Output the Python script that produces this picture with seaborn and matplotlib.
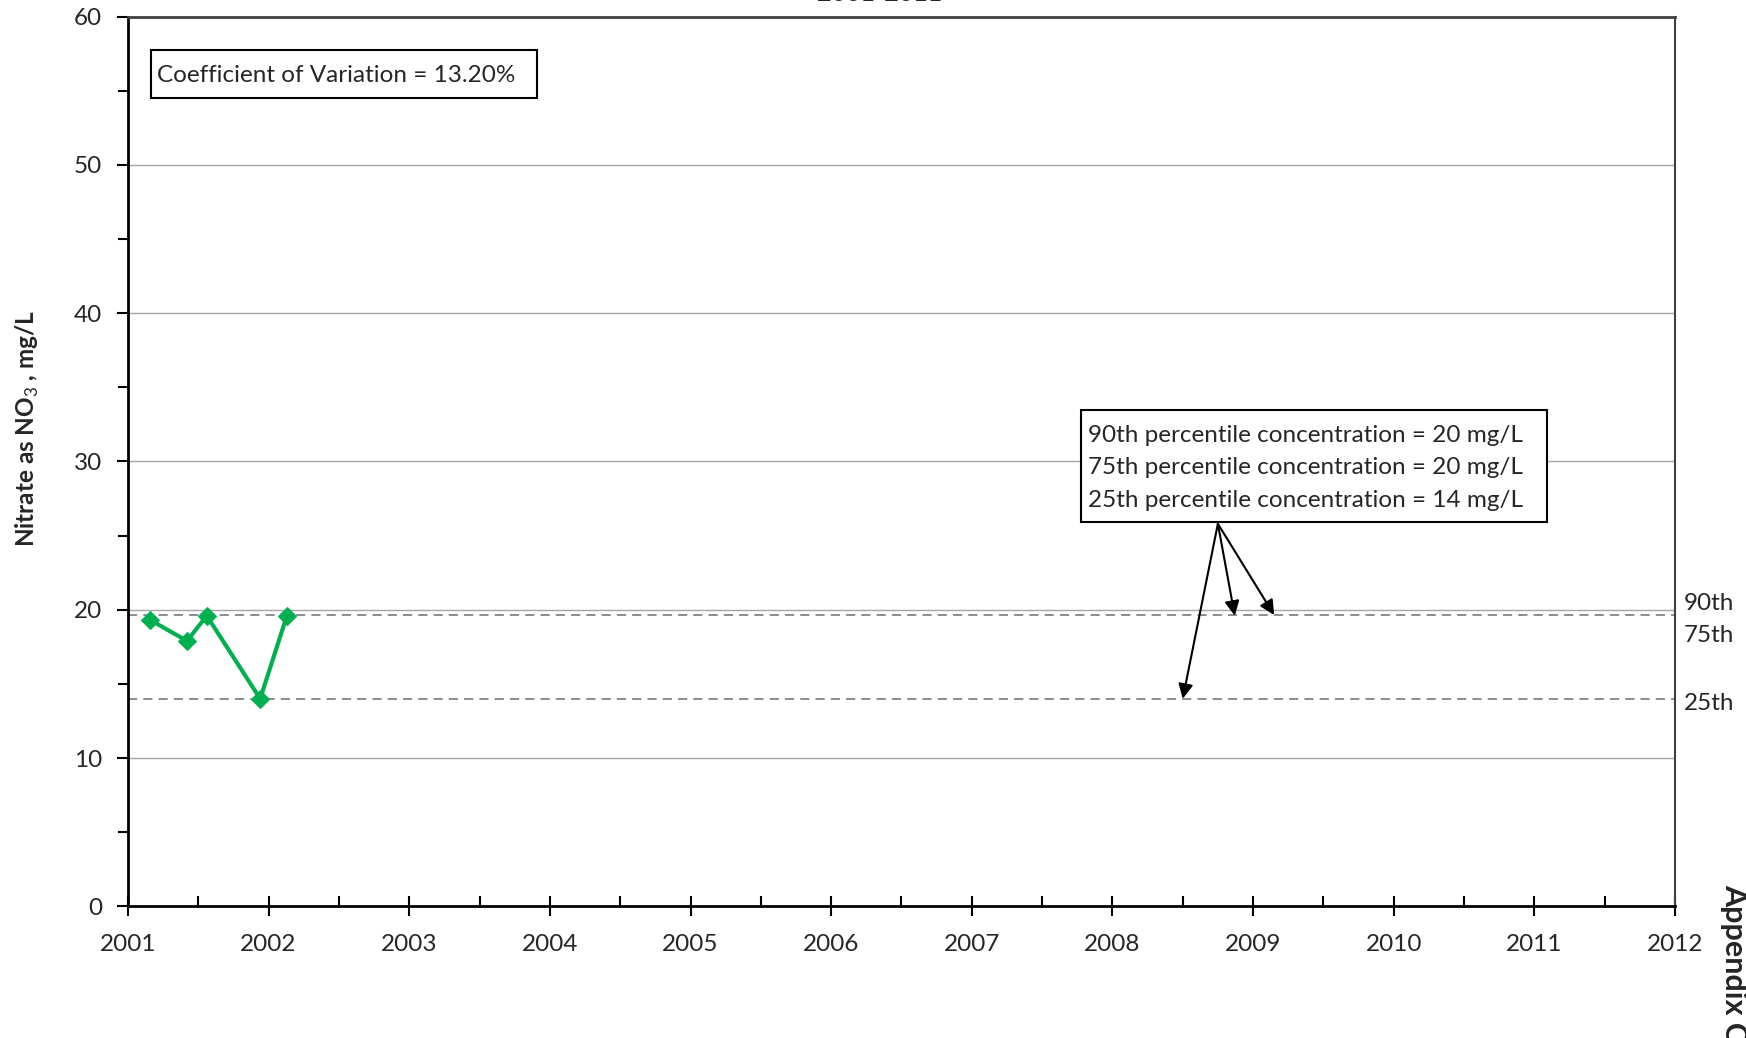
import matplotlib
matplotlib.use("Agg")
import matplotlib.pyplot as plt
import seaborn as sns
import pandas as pd
from matplotlib.ticker import MultipleLocator
from matplotlib.patches import Rectangle

# ---- data ----
sample_dates = [2001.16, 2001.42, 2001.56, 2001.94, 2002.13]
nitrate = [19.3, 17.9, 19.6, 14.0, 19.6]
p90 = 19.65
p75 = 19.6
p25 = 14.0
x_ticks = list(range(2001, 2013))
y_ticks = [0, 10, 20, 30, 40, 50, 60]
title = "2001-2011"
cv_text = "Coefficient of Variation = 13.20%"
pct_lines = ["90th percentile concentration = 20 mg/L",
             "75th percentile concentration = 20 mg/L",
             "25th percentile concentration = 14 mg/L"]
pct_labels = ["90th", "75th", "25th"]

sns.set_theme(style="white")
plt.rcParams['font.family'] = ['Lato', 'DejaVu Sans']
plt.rcParams['mathtext.fontset'] = 'custom'
plt.rcParams['mathtext.rm'] = 'Lato'
plt.rcParams['mathtext.bf'] = 'Lato:bold'

FS = 17.5

df = pd.DataFrame({"date": sample_dates, "nitrate": nitrate})

fig = plt.figure(figsize=(17.46, 10.38), dpi=100)
ax = fig.add_axes([0.0733, 0.1268, 0.9593 - 0.0733, 0.984 - 0.1268])

# grid lines
for y in y_ticks[1:-1]:
    ax.axhline(y, color="#A6A6A6", lw=1.0, zorder=1)

# percentile lines
for v in (p90, p25):
    ax.axhline(v, color="#6E6E6E", lw=1.1, ls=(0, (6, 4)), zorder=2)

sns.lineplot(data=df, x="date", y="nitrate", ax=ax, color="#00B050",
             lw=3, marker="D", markersize=9, markeredgecolor="#00B050",
             zorder=5)

ax.set_xlim(2001, 2012)
ax.set_ylim(0, 60)
ax.set_xticks(x_ticks)
ax.set_xticklabels([str(t) for t in x_ticks], fontsize=FS)
ax.set_yticks(y_ticks)
ax.set_yticklabels([str(t) for t in y_ticks], fontsize=FS)
ax.xaxis.set_minor_locator(MultipleLocator(0.5))
ax.yaxis.set_minor_locator(MultipleLocator(5))
ax.tick_params(axis="x", which="major", direction="inout", length=14, width=1.5, color="black", pad=13, bottom=True)
ax.tick_params(axis="x", which="minor", direction="in", length=7, width=1.5, color="black", bottom=True)
ax.tick_params(axis="y", which="major", direction="out", length=8, width=1.5, color="black", left=True, pad=10.5)
ax.tick_params(axis="y", which="minor", direction="out", length=7, width=1.5, color="black", left=True)
ax.set_xlabel("")
ax.set_ylabel("Nitrate as NO$_3$ , mg/L", fontsize=FS, fontweight="bold")
ax.yaxis.set_label_coords(-0.056, 0.537)

for s in ("left", "bottom"):
    ax.spines[s].set_color("black")
    ax.spines[s].set_linewidth(2)
ax.spines["top"].set_color("#404040")
ax.spines["top"].set_linewidth(2)
ax.spines["right"].set_color("#404040")
ax.spines["right"].set_linewidth(1.5)

# Coefficient of variation box
ax.add_patch(Rectangle((2001.166, 54.52), 2003.906 - 2001.166, 57.75 - 54.52,
                       fc="white", ec="black", lw=1.5, zorder=6))
ax.text(2001.206, 56.05, cv_text, fontsize=FS, ha="left", va="center", zorder=7)

# percentile box
ax.add_patch(Rectangle((2007.779, 25.91), 2011.089 - 2007.779, 33.49 - 25.91,
                       fc="white", ec="black", lw=1.5, zorder=6))
for line, yv in zip(pct_lines, [31.75, 29.58, 27.4]):
    ax.text(2007.827, yv, line, fontsize=FS, ha="left", va="center", zorder=7)

# arrows
src = (2008.75, 25.8)
for tgt in [(2008.50, p25), (2008.87, p75), (2009.15, p90)]:
    ax.annotate("", xy=tgt, xytext=src,
                arrowprops=dict(arrowstyle="-|>", color="black", lw=1.5,
                                mutation_scale=22, shrinkA=0, shrinkB=0), zorder=6)

# right labels
for lbl, yv in zip(pct_labels, [20.45, 18.3, 13.65]):
    ax.text(2012.06, yv, lbl, fontsize=FS, ha="left", va="center", clip_on=False)

# title (cut off at top, as in the reference)
fig.text(0.504, 0.999, title, fontsize=18, fontweight="bold", ha="center", va="baseline")

# Appendix label (cut off at bottom, as in the reference)
fig.text(0.9935, 0.148, "Appendix C", fontsize=22, fontweight="bold", rotation=270,
         ha="center", va="top")

fig.savefig("out.png", dpi=100)
